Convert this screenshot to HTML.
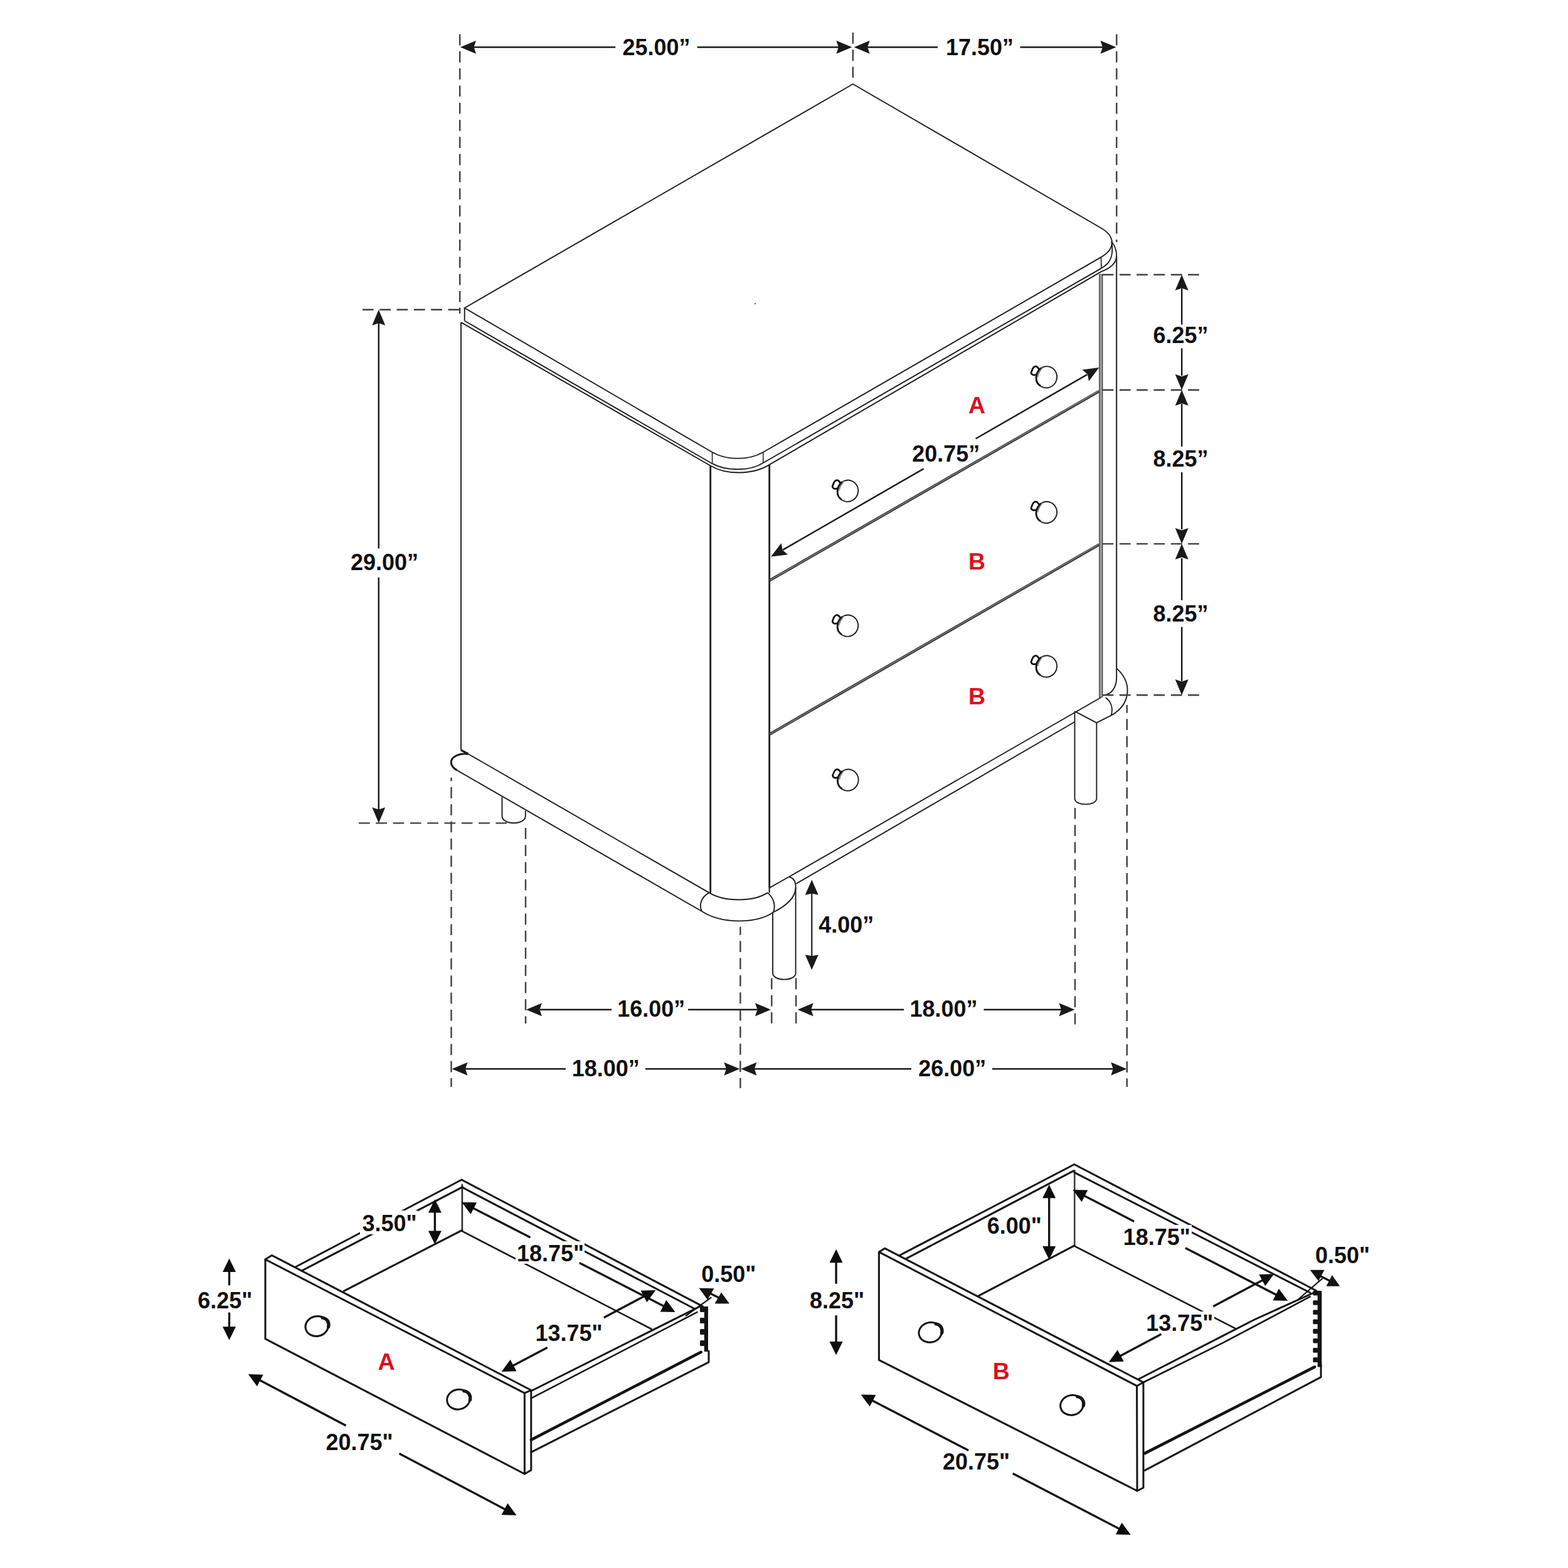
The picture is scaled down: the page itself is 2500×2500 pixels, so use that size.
<!DOCTYPE html>
<html lang="en"><head><meta charset="utf-8"><title>Chest dimensions</title>
<style>
html,body{margin:0;padding:0;background:#fff;}
body{width:2500px;height:2500px;}
svg{display:block;}
svg text{font-family:"Liberation Sans",Arial,Helvetica,sans-serif;font-weight:bold;}
</style></head><body>
<svg width="2500" height="2500" viewBox="0 0 2500 2500">
<rect width="2500" height="2500" fill="#ffffff"/>
<path d="M 740.7,491 L 1359.9,134 L 1755,363.2 C 1778.9,377 1778.9,396.6 1755,410.4 L 1216.8,721 C 1194,734.2 1158.2,734.2 1135.6,721 Z" stroke="#1c1c1c" stroke-width="1.9" fill="none" stroke-linejoin="miter" stroke-linecap="butt"/>
<line x1="740.7" y1="491" x2="740.7" y2="511.5" stroke="#1c1c1c" stroke-width="1.9"/>
<line x1="740.7" y1="511.5" x2="1135.6" y2="739.2" stroke="#1c1c1c" stroke-width="1.9"/>
<line x1="1135.6" y1="721" x2="1135.6" y2="739.2" stroke="#1c1c1c" stroke-width="1.5"/>
<line x1="1216.8" y1="721" x2="1216.8" y2="738" stroke="#1c1c1c" stroke-width="1.5"/>
<path d="M 1135.6,739.2 C 1158,751.5 1196,751.5 1216.8,738" stroke="#1c1c1c" stroke-width="1.9" fill="none" stroke-linejoin="round" stroke-linecap="butt"/>
<line x1="1216.8" y1="738" x2="1756.2" y2="427.6" stroke="#1c1c1c" stroke-width="1.9"/>
<line x1="735" y1="513.9" x2="1132.7" y2="742.5" stroke="#1c1c1c" stroke-width="1.9"/>
<path d="M 1132.7,742.5 C 1158,757.5 1200,757.5 1226.7,740.9" stroke="#1c1c1c" stroke-width="1.9" fill="none" stroke-linejoin="round" stroke-linecap="butt"/>
<line x1="1226.7" y1="740.9" x2="1756.2" y2="432.9" stroke="#1c1c1c" stroke-width="1.9"/>
<path d="M 1772.3,385 C 1774.5,398 1773.5,412 1765.5,420.5 Q 1761,424.8 1756.2,427.5" stroke="#1c1c1c" stroke-width="1.9" fill="none" stroke-linejoin="round" stroke-linecap="butt"/>
<path d="M 1772.3,385 C 1777,391 1780.2,399 1780.2,407.5 C 1780.2,418 1772,427 1756.2,432.9" stroke="#1c1c1c" stroke-width="1.9" fill="none" stroke-linejoin="round" stroke-linecap="butt"/>
<line x1="1755.5" y1="410.4" x2="1756" y2="427.5" stroke="#1c1c1c" stroke-width="1.6"/>
<line x1="735" y1="513.9" x2="735" y2="1195.8" stroke="#1c1c1c" stroke-width="1.9"/>
<line x1="1132.7" y1="742.5" x2="1132.7" y2="1423.4" stroke="#1c1c1c" stroke-width="2.8"/>
<line x1="1226.7" y1="740.9" x2="1226.7" y2="1415.6" stroke="#1c1c1c" stroke-width="2.8"/>
<line x1="1780.2" y1="408" x2="1780.2" y2="1066" stroke="#1c1c1c" stroke-width="2.0"/>
<line x1="1755.3" y1="437" x2="1755.3" y2="1112" stroke="#3a3a3a" stroke-width="6.2"/>
<line x1="1755.3" y1="438" x2="1755.3" y2="1111" stroke="#9c9c9c" stroke-width="3.6"/>
<line x1="1226.7" y1="925.7" x2="1752.3" y2="623.9" stroke="#333" stroke-width="4.4"/>
<line x1="1227.7" y1="925.1" x2="1751.3" y2="623.9" stroke="#8a8a8a" stroke-width="1.3"/>
<line x1="1226.7" y1="1170.8" x2="1752.3" y2="868.4" stroke="#333" stroke-width="4.4"/>
<line x1="1227.7" y1="1170.2" x2="1751.3" y2="868.4" stroke="#8a8a8a" stroke-width="1.3"/>
<path d="M 1341.5,771.9 L 1336.9,766.5 Q 1335.1,765.1 1333.2,765.7 Q 1330.6,766.7 1329.5,769.4 L 1327.4,774.8 Q 1327,777.2 1328.6,778.1 Q 1329.8,779.5 1331.5,779.4 L 1336.5,778.5" stroke="#0a0a0a" stroke-width="2.7" fill="none" stroke-linejoin="round" stroke-linecap="round"/>
<ellipse cx="1351.6" cy="782.7" rx="16.6" ry="17.2" fill="#fff" stroke="#1c1c1c" stroke-width="1.9" transform="rotate(20 1351.6 782.7)"/>
<path d="M 1342.6,768.4 C 1333.6,776.7 1332.1,790.7 1342.1,796.7" stroke="#111" stroke-width="2.8" fill="none" stroke-linejoin="round" stroke-linecap="butt"/>
<path d="M 1345.6,767.1 C 1340.6,772.7 1338.6,777.7 1338,782.2" stroke="#777" stroke-width="1.6" fill="none" stroke-linejoin="round" stroke-linecap="butt"/>
<path d="M 1658.4,590.5 L 1653.8,585.1 Q 1652,583.7 1650.1,584.3 Q 1647.5,585.3 1646.4,588 L 1644.3,593.4 Q 1643.9,595.8 1645.5,596.7 Q 1646.7,598.1 1648.4,598 L 1653.4,597.1" stroke="#0a0a0a" stroke-width="2.7" fill="none" stroke-linejoin="round" stroke-linecap="round"/>
<ellipse cx="1668.5" cy="601.3" rx="16.6" ry="17.2" fill="#fff" stroke="#1c1c1c" stroke-width="1.9" transform="rotate(20 1668.5 601.3)"/>
<path d="M 1659.5,587 C 1650.5,595.3 1649,609.3 1659,615.3" stroke="#111" stroke-width="2.8" fill="none" stroke-linejoin="round" stroke-linecap="butt"/>
<path d="M 1662.5,585.7 C 1657.5,591.3 1655.5,596.3 1654.9,600.8" stroke="#777" stroke-width="1.6" fill="none" stroke-linejoin="round" stroke-linecap="butt"/>
<path d="M 1341.5,986.9 L 1336.9,981.5 Q 1335.1,980.1 1333.2,980.7 Q 1330.6,981.7 1329.5,984.4 L 1327.4,989.8 Q 1327,992.2 1328.6,993.1 Q 1329.8,994.5 1331.5,994.4 L 1336.5,993.5" stroke="#0a0a0a" stroke-width="2.7" fill="none" stroke-linejoin="round" stroke-linecap="round"/>
<ellipse cx="1351.6" cy="997.7" rx="16.6" ry="17.2" fill="#fff" stroke="#1c1c1c" stroke-width="1.9" transform="rotate(20 1351.6 997.7)"/>
<path d="M 1342.6,983.4 C 1333.6,991.7 1332.1,1005.7 1342.1,1011.7" stroke="#111" stroke-width="2.8" fill="none" stroke-linejoin="round" stroke-linecap="butt"/>
<path d="M 1345.6,982.1 C 1340.6,987.7 1338.6,992.7 1338,997.2" stroke="#777" stroke-width="1.6" fill="none" stroke-linejoin="round" stroke-linecap="butt"/>
<path d="M 1658.4,806.2 L 1653.8,800.8 Q 1652,799.4 1650.1,800 Q 1647.5,801 1646.4,803.7 L 1644.3,809.1 Q 1643.9,811.5 1645.5,812.4 Q 1646.7,813.8 1648.4,813.7 L 1653.4,812.8" stroke="#0a0a0a" stroke-width="2.7" fill="none" stroke-linejoin="round" stroke-linecap="round"/>
<ellipse cx="1668.5" cy="817" rx="16.6" ry="17.2" fill="#fff" stroke="#1c1c1c" stroke-width="1.9" transform="rotate(20 1668.5 817)"/>
<path d="M 1659.5,802.7 C 1650.5,811 1649,825 1659,831" stroke="#111" stroke-width="2.8" fill="none" stroke-linejoin="round" stroke-linecap="butt"/>
<path d="M 1662.5,801.4 C 1657.5,807 1655.5,812 1654.9,816.5" stroke="#777" stroke-width="1.6" fill="none" stroke-linejoin="round" stroke-linecap="butt"/>
<path d="M 1341.9,1232.9 L 1337.3,1227.5 Q 1335.5,1226.1 1333.6,1226.7 Q 1331,1227.7 1329.9,1230.4 L 1327.8,1235.8 Q 1327.4,1238.2 1329,1239.1 Q 1330.2,1240.5 1331.9,1240.4 L 1336.9,1239.5" stroke="#0a0a0a" stroke-width="2.7" fill="none" stroke-linejoin="round" stroke-linecap="round"/>
<ellipse cx="1352" cy="1243.7" rx="16.6" ry="17.2" fill="#fff" stroke="#1c1c1c" stroke-width="1.9" transform="rotate(20 1352 1243.7)"/>
<path d="M 1343,1229.4 C 1334,1237.7 1332.5,1251.7 1342.5,1257.7" stroke="#111" stroke-width="2.8" fill="none" stroke-linejoin="round" stroke-linecap="butt"/>
<path d="M 1346,1228.1 C 1341,1233.7 1339,1238.7 1338.4,1243.2" stroke="#777" stroke-width="1.6" fill="none" stroke-linejoin="round" stroke-linecap="butt"/>
<path d="M 1658.4,1051.7 L 1653.8,1046.3 Q 1652,1044.9 1650.1,1045.5 Q 1647.5,1046.5 1646.4,1049.2 L 1644.3,1054.6 Q 1643.9,1057 1645.5,1057.9 Q 1646.7,1059.3 1648.4,1059.2 L 1653.4,1058.3" stroke="#0a0a0a" stroke-width="2.7" fill="none" stroke-linejoin="round" stroke-linecap="round"/>
<ellipse cx="1668.5" cy="1062.5" rx="16.6" ry="17.2" fill="#fff" stroke="#1c1c1c" stroke-width="1.9" transform="rotate(20 1668.5 1062.5)"/>
<path d="M 1659.5,1048.2 C 1650.5,1056.5 1649,1070.5 1659,1076.5" stroke="#111" stroke-width="2.8" fill="none" stroke-linejoin="round" stroke-linecap="butt"/>
<path d="M 1662.5,1046.9 C 1657.5,1052.5 1655.5,1057.5 1654.9,1062" stroke="#777" stroke-width="1.6" fill="none" stroke-linejoin="round" stroke-linecap="butt"/>
<text x="1557.5" y="658.9" font-size="37.5" text-anchor="middle" fill="#de0f1f">A</text>
<text x="1557.5" y="908.1" font-size="37.5" text-anchor="middle" fill="#de0f1f">B</text>
<text x="1557.5" y="1123.3" font-size="37.5" text-anchor="middle" fill="#de0f1f">B</text>
<line x1="735" y1="1195.8" x2="746.7" y2="1202.2" stroke="#1c1c1c" stroke-width="3.2"/>
<line x1="746.7" y1="1202.2" x2="1130.7" y2="1423.4" stroke="#1c1c1c" stroke-width="1.9"/>
<line x1="728.6" y1="1228.1" x2="1119" y2="1453" stroke="#1c1c1c" stroke-width="1.9"/>
<path d="M 746.7,1202.2 C 734,1200 718.5,1206 719.2,1216 C 719.8,1222 723,1225 728.6,1228.1" stroke="#1c1c1c" stroke-width="3.0" fill="none" stroke-linejoin="round" stroke-linecap="butt"/>
<path d="M 1130.7,1423.4 C 1155,1438 1200,1438.5 1223.9,1423.4" stroke="#1c1c1c" stroke-width="1.9" fill="none" stroke-linejoin="round" stroke-linecap="butt"/>
<path d="M 1119,1453 C 1150,1473 1205,1473.5 1233,1454.5" stroke="#1c1c1c" stroke-width="1.9" fill="none" stroke-linejoin="round" stroke-linecap="butt"/>
<path d="M 1130.7,1423.4 C 1118,1430 1114,1443 1119,1453" stroke="#1c1c1c" stroke-width="1.9" fill="none" stroke-linejoin="round" stroke-linecap="butt"/>
<path d="M 1223.9,1423.4 C 1234,1432 1237,1444 1233,1454.5" stroke="#1c1c1c" stroke-width="1.9" fill="none" stroke-linejoin="round" stroke-linecap="butt"/>
<path d="M 1226.7,1415.6 L 1226.7,1423.4" stroke="#1c1c1c" stroke-width="2.2" fill="none" stroke-linejoin="round" stroke-linecap="butt"/>
<line x1="1226.7" y1="1415.6" x2="1257.9" y2="1398" stroke="#1c1c1c" stroke-width="1.9"/>
<path d="M 1257.9,1398 C 1266,1400 1269,1406 1268.6,1415.6 C 1268,1432 1252,1445 1233,1454.5" stroke="#1c1c1c" stroke-width="1.9" fill="none" stroke-linejoin="round" stroke-linecap="butt"/>
<line x1="1257.9" y1="1398" x2="1755" y2="1112.2" stroke="#1c1c1c" stroke-width="1.9"/>
<line x1="1269.5" y1="1409" x2="1713" y2="1151.2" stroke="#1c1c1c" stroke-width="1.9"/>
<path d="M 1232.1,1454.5 L 1232.1,1551.5 C 1232.1,1565 1268.6,1565 1268.6,1551.5 L 1268.6,1415.6" stroke="#1c1c1c" stroke-width="1.9" fill="none" stroke-linejoin="round" stroke-linecap="butt"/>
<path d="M 800.5,1270.8 L 800.5,1301 C 800.5,1316 837.8,1316 837.8,1301 L 837.8,1292.8" stroke="#1c1c1c" stroke-width="1.9" fill="none" stroke-linejoin="round" stroke-linecap="butt"/>
<path d="M 1713.5,1134.2 L 1713.5,1273 C 1713.5,1285.5 1748.4,1285.5 1748.4,1273 L 1748.4,1152.3" stroke="#1c1c1c" stroke-width="1.9" fill="none" stroke-linejoin="round" stroke-linecap="butt"/>
<path d="M 1713.5,1134.2 L 1748.4,1152.3 L 1771.7,1140.7" stroke="#1c1c1c" stroke-width="1.9" fill="none" stroke-linejoin="round" stroke-linecap="butt"/>
<path d="M 1780.2,1066 L 1780.2,1080 C 1780.2,1096 1772,1108.3 1758.8,1108.3" stroke="#1c1c1c" stroke-width="1.9" fill="none" stroke-linejoin="round" stroke-linecap="butt"/>
<path d="M 1780.2,1065.6 C 1792,1076 1798,1088 1797.6,1101.9 C 1797,1120 1787,1132 1771.7,1140.7" stroke="#1c1c1c" stroke-width="1.9" fill="none" stroke-linejoin="round" stroke-linecap="butt"/>
<path d="M 1762.7,1112.2 C 1771,1118 1775,1128 1771.7,1140.7" stroke="#1c1c1c" stroke-width="1.9" fill="none" stroke-linejoin="round" stroke-linecap="butt"/>
<line x1="733.2" y1="54.5" x2="733.2" y2="484" stroke="#3f3f3f" stroke-width="2.4" stroke-dasharray="17.7 9.6"/>
<line x1="733.2" y1="490.5" x2="733.2" y2="500" stroke="#3f3f3f" stroke-width="2.4" stroke-dasharray="17.7 9.6"/>
<line x1="1359.9" y1="52" x2="1359.9" y2="124" stroke="#3f3f3f" stroke-width="2.4" stroke-dasharray="17.7 9.6"/>
<line x1="1780.3" y1="54.5" x2="1780.3" y2="386" stroke="#3f3f3f" stroke-width="2.4" stroke-dasharray="17.7 9.6"/>
<line x1="755" y1="75.2" x2="981.2" y2="75.2" stroke="#1c1c1c" stroke-width="2.5"/>
<line x1="1111.7" y1="75.2" x2="1337" y2="75.2" stroke="#1c1c1c" stroke-width="2.5"/>
<polygon points="734,75.2 759,64.7 755.5,75.2 759,85.7" fill="#1a1a1a"/>
<polygon points="1358.4,75.2 1333.4,85.7 1336.9,75.2 1333.4,64.7" fill="#1a1a1a"/>
<text x="1046.5" y="88.2" font-size="36" text-anchor="middle" fill="#111">25.00”</text>
<line x1="1383" y1="75.2" x2="1495" y2="75.2" stroke="#1c1c1c" stroke-width="2.5"/>
<line x1="1626.5" y1="75.2" x2="1758" y2="75.2" stroke="#1c1c1c" stroke-width="2.5"/>
<polygon points="1361.7,75.2 1386.7,64.7 1383.2,75.2 1386.7,85.7" fill="#1a1a1a"/>
<polygon points="1779.5,75.2 1754.5,85.7 1758,75.2 1754.5,64.7" fill="#1a1a1a"/>
<text x="1562" y="88.2" font-size="36" text-anchor="middle" fill="#111">17.50”</text>
<line x1="578" y1="493.7" x2="732.5" y2="493.7" stroke="#3f3f3f" stroke-width="2.4" stroke-dasharray="17.7 9.6"/>
<line x1="572" y1="1312.4" x2="808.8" y2="1312.4" stroke="#3f3f3f" stroke-width="2.4" stroke-dasharray="17.7 9.6"/>
<line x1="603.8" y1="515" x2="603.8" y2="874.4" stroke="#1c1c1c" stroke-width="2.5"/>
<line x1="603.8" y1="920.8" x2="603.8" y2="1291" stroke="#1c1c1c" stroke-width="2.5"/>
<polygon points="603.8,493.7 614.3,518.7 603.8,515.2 593.3,518.7" fill="#1a1a1a"/>
<polygon points="603.8,1312.2 593.3,1287.2 603.8,1290.7 614.3,1287.2" fill="#1a1a1a"/>
<text x="613" y="908.5" font-size="36" text-anchor="middle" fill="#111">29.00”</text>
<line x1="1757.6" y1="438" x2="1912.6" y2="438" stroke="#3f3f3f" stroke-width="2.4" stroke-dasharray="17.7 9.6"/>
<line x1="1757.6" y1="621.8" x2="1912.6" y2="621.8" stroke="#3f3f3f" stroke-width="2.4" stroke-dasharray="17.7 9.6"/>
<line x1="1757.6" y1="867.1" x2="1912.6" y2="867.1" stroke="#3f3f3f" stroke-width="2.4" stroke-dasharray="17.7 9.6"/>
<line x1="1757.6" y1="1108.3" x2="1912.6" y2="1108.3" stroke="#3f3f3f" stroke-width="2.4" stroke-dasharray="17.7 9.6"/>
<polygon points="1884.2,438 1894.7,463 1884.2,459.5 1873.7,463" fill="#1a1a1a"/>
<polygon points="1884.2,621.8 1873.7,596.8 1884.2,600.3 1894.7,596.8" fill="#1a1a1a"/>
<line x1="1884.2" y1="460" x2="1884.2" y2="517.5" stroke="#1c1c1c" stroke-width="2.5"/>
<line x1="1884.2" y1="555.3" x2="1884.2" y2="599" stroke="#1c1c1c" stroke-width="2.5"/>
<text x="1882.5" y="547.3" font-size="36" text-anchor="middle" fill="#111">6.25”</text>
<polygon points="1884.2,621.8 1894.7,646.8 1884.2,643.3 1873.7,646.8" fill="#1a1a1a"/>
<polygon points="1884.2,867.1 1873.7,842.1 1884.2,845.6 1894.7,842.1" fill="#1a1a1a"/>
<line x1="1884.2" y1="644" x2="1884.2" y2="712" stroke="#1c1c1c" stroke-width="2.5"/>
<line x1="1884.2" y1="753" x2="1884.2" y2="844" stroke="#1c1c1c" stroke-width="2.5"/>
<text x="1882.5" y="744.3" font-size="36" text-anchor="middle" fill="#111">8.25”</text>
<polygon points="1884.2,867.1 1894.7,892.1 1884.2,888.6 1873.7,892.1" fill="#1a1a1a"/>
<polygon points="1884.2,1108.3 1873.7,1083.3 1884.2,1086.8 1894.7,1083.3" fill="#1a1a1a"/>
<line x1="1884.2" y1="890" x2="1884.2" y2="957" stroke="#1c1c1c" stroke-width="2.5"/>
<line x1="1884.2" y1="999.6" x2="1884.2" y2="1086" stroke="#1c1c1c" stroke-width="2.5"/>
<text x="1882.5" y="991.3" font-size="36" text-anchor="middle" fill="#111">8.25”</text>
<polygon points="1752.5,586.1 1736.1,607.7 1733.9,596.8 1725.6,589.5" fill="#1a1a1a"/>
<polygon points="1229.2,887.6 1245.6,866 1247.8,876.9 1256.1,884.2" fill="#1a1a1a"/>
<line x1="1733.4" y1="597.1" x2="1555.6" y2="699.5" stroke="#1c1c1c" stroke-width="2.5"/>
<line x1="1472.7" y1="747.3" x2="1248.3" y2="876.6" stroke="#1c1c1c" stroke-width="2.5"/>
<text x="1508.3" y="735.6" font-size="36" text-anchor="middle" fill="#111">20.75”</text>
<line x1="719.5" y1="1239.8" x2="719.5" y2="1733" stroke="#3f3f3f" stroke-width="2.4" stroke-dasharray="17.7 9.6" stroke-dashoffset="12.1"/>
<line x1="838" y1="1320" x2="838" y2="1632" stroke="#3f3f3f" stroke-width="2.4" stroke-dasharray="17.7 9.6"/>
<line x1="1180.4" y1="1477.7" x2="1180.4" y2="1735" stroke="#3f3f3f" stroke-width="2.4" stroke-dasharray="17.7 9.6" stroke-dashoffset="4.7"/>
<line x1="1230.3" y1="1559.5" x2="1230.3" y2="1631.7" stroke="#3f3f3f" stroke-width="2.4" stroke-dasharray="17.7 9.6"/>
<line x1="1269.2" y1="1559.5" x2="1269.2" y2="1631.7" stroke="#3f3f3f" stroke-width="2.4" stroke-dasharray="17.7 9.6"/>
<line x1="1714" y1="1288" x2="1714" y2="1635" stroke="#3f3f3f" stroke-width="2.4" stroke-dasharray="17.7 9.6"/>
<line x1="1796.8" y1="1123.9" x2="1796.8" y2="1733" stroke="#3f3f3f" stroke-width="2.4" stroke-dasharray="17.7 9.6" stroke-dashoffset="4.9"/>
<polygon points="839,1609.7 864,1599.2 860.5,1609.7 864,1620.2" fill="#1a1a1a"/>
<polygon points="1229,1609.7 1204,1620.2 1207.5,1609.7 1204,1599.2" fill="#1a1a1a"/>
<line x1="861" y1="1609.7" x2="975" y2="1609.7" stroke="#1c1c1c" stroke-width="2.5"/>
<line x1="1097" y1="1609.7" x2="1207" y2="1609.7" stroke="#1c1c1c" stroke-width="2.5"/>
<text x="1038.3" y="1621.3" font-size="36" text-anchor="middle" fill="#111">16.00”</text>
<polygon points="1271.7,1609.7 1296.7,1599.2 1293.2,1609.7 1296.7,1620.2" fill="#1a1a1a"/>
<polygon points="1713.5,1609.7 1688.5,1620.2 1692,1609.7 1688.5,1599.2" fill="#1a1a1a"/>
<line x1="1293" y1="1609.7" x2="1441.3" y2="1609.7" stroke="#1c1c1c" stroke-width="2.5"/>
<line x1="1568.5" y1="1609.7" x2="1692" y2="1609.7" stroke="#1c1c1c" stroke-width="2.5"/>
<text x="1504.5" y="1621.3" font-size="36" text-anchor="middle" fill="#111">18.00”</text>
<polygon points="720.5,1704.2 745.5,1693.7 742,1704.2 745.5,1714.7" fill="#1a1a1a"/>
<polygon points="1179.4,1704.2 1154.4,1714.7 1157.9,1704.2 1154.4,1693.7" fill="#1a1a1a"/>
<line x1="742" y1="1704.2" x2="902" y2="1704.2" stroke="#1c1c1c" stroke-width="2.5"/>
<line x1="1029" y1="1704.2" x2="1158" y2="1704.2" stroke="#1c1c1c" stroke-width="2.5"/>
<text x="965.8" y="1715.6" font-size="36" text-anchor="middle" fill="#111">18.00”</text>
<polygon points="1181.4,1704.2 1206.4,1693.7 1202.9,1704.2 1206.4,1714.7" fill="#1a1a1a"/>
<polygon points="1796.3,1704.2 1771.3,1714.7 1774.8,1704.2 1771.3,1693.7" fill="#1a1a1a"/>
<line x1="1203" y1="1704.2" x2="1453" y2="1704.2" stroke="#1c1c1c" stroke-width="2.5"/>
<line x1="1582" y1="1704.2" x2="1775" y2="1704.2" stroke="#1c1c1c" stroke-width="2.5"/>
<text x="1518.3" y="1715.6" font-size="36" text-anchor="middle" fill="#111">26.00”</text>
<polygon points="1294.3,1402.7 1304.8,1426.7 1294.3,1424.7 1283.8,1426.7" fill="#1a1a1a"/>
<polygon points="1294.3,1546.3 1283.8,1522.3 1294.3,1524.3 1304.8,1522.3" fill="#1a1a1a"/>
<line x1="1294.3" y1="1424" x2="1294.3" y2="1525" stroke="#1c1c1c" stroke-width="2.2"/>
<text x="1349.3" y="1486.8" font-size="36" text-anchor="middle" fill="#111">4.00”</text>
<circle cx="1204" cy="484" r="1.3" fill="#777"/>
<path d="M 423,2008 L 836.4,2221.2 L 836.4,2350 L 423,2134.7 Z" stroke="#141414" stroke-width="3.0" fill="none" stroke-linejoin="round" stroke-linecap="round"/>
<path d="M 423,2008 L 433.3,2001.4 L 846.8,2216.5 L 846.8,2344 L 836.4,2350" stroke="#141414" stroke-width="3.0" fill="none" stroke-linejoin="round" stroke-linecap="round"/>
<path d="M 836.4,2221.2 L 846.8,2216.5" stroke="#141414" stroke-width="3.0" fill="none" stroke-linejoin="round" stroke-linecap="round"/>
<path d="M 472.1,2019.5 L 736,1881" stroke="#141414" stroke-width="3.0" fill="none" stroke-linejoin="round" stroke-linecap="round"/>
<path d="M 481.2,2026 L 737.4,1892.7" stroke="#141414" stroke-width="3.0" fill="none" stroke-linejoin="round" stroke-linecap="round"/>
<path d="M 736.9,1888.8 L 736.9,1961.3" stroke="#2a2a2a" stroke-width="2.6" fill="none" stroke-linejoin="round" stroke-linecap="round"/>
<path d="M 736.9,1961.3 L 548.4,2058.3" stroke="#141414" stroke-width="3.0" fill="none" stroke-linejoin="round" stroke-linecap="round"/>
<path d="M 736,1881 L 1120.5,2082.8" stroke="#141414" stroke-width="3.0" fill="none" stroke-linejoin="round" stroke-linecap="round"/>
<path d="M 736.2,1892.7 L 1108,2087" stroke="#141414" stroke-width="3.0" fill="none" stroke-linejoin="round" stroke-linecap="round"/>
<path d="M 736.2,1962.6 L 1038.6,2119" stroke="#141414" stroke-width="2.6" fill="none" stroke-linejoin="round" stroke-linecap="round"/>
<path d="M 846.4,2218 L 1116,2082.8" stroke="#141414" stroke-width="3.0" fill="none" stroke-linejoin="round" stroke-linecap="round"/>
<path d="M 846.9,2229.4 L 1111.5,2092.1" stroke="#141414" stroke-width="2.6" fill="none" stroke-linejoin="round" stroke-linecap="round"/>
<path d="M 846.9,2295.6 L 1117.7,2155.8" stroke="#141414" stroke-width="4.6" fill="none" stroke-linejoin="round" stroke-linecap="round"/>
<path d="M 846.9,2315.3 L 1130,2171.8 L 1130,2154" stroke="#141414" stroke-width="3.0" fill="none" stroke-linejoin="round" stroke-linecap="round"/>
<rect x="1122.8" y="2083" width="6.2" height="72" fill="#141414"/>
<rect x="1116" y="2083" width="7.3" height="9" rx="1.5" fill="#141414"/>
<rect x="1116" y="2101" width="7.3" height="9" rx="1.5" fill="#141414"/>
<rect x="1116" y="2119" width="7.3" height="9" rx="1.5" fill="#141414"/>
<rect x="1116" y="2137" width="7.3" height="9" rx="1.5" fill="#141414"/>
<ellipse cx="505.2" cy="2114.5" rx="18.3" ry="15.8" fill="none" stroke="#141414" stroke-width="3" transform="rotate(-12 505.2 2114.5)"/>
<path d="M 514.2,2101 C 522.2,2102.5 525.2,2108.5 523.7,2115.5" stroke="#141414" stroke-width="5.2" fill="none" stroke-linejoin="round" stroke-linecap="round"/>
<ellipse cx="730.9" cy="2231.2" rx="18.3" ry="15.8" fill="none" stroke="#141414" stroke-width="3" transform="rotate(-12 730.9 2231.2)"/>
<path d="M 739.9,2217.7 C 747.9,2219.2 750.9,2225.2 749.4,2232.2" stroke="#141414" stroke-width="5.2" fill="none" stroke-linejoin="round" stroke-linecap="round"/>
<rect x="574" y="1930" width="92" height="38" fill="#fff"/>
<rect x="822" y="1979" width="110" height="36" fill="#fff"/>
<rect x="852" y="2107" width="110" height="36" fill="#fff"/>
<line x1="365.5" y1="2026.1" x2="365.5" y2="2049.3" stroke="#141414" stroke-width="3.4"/>
<line x1="365.5" y1="2092.6" x2="365.5" y2="2117.2" stroke="#141414" stroke-width="3.4"/>
<polygon points="365.5,2006.6 376,2028.1 365.5,2028.1 355,2028.1" fill="#0d0d0d"/>
<polygon points="365.5,2136.7 355,2115.2 365.5,2115.2 376,2115.2" fill="#0d0d0d"/>
<text x="358.8" y="2085.5" font-size="36" text-anchor="middle" fill="#111">6.25"</text>
<line x1="693.4" y1="1931.5" x2="693.4" y2="1964.5" stroke="#141414" stroke-width="3.4"/>
<polygon points="693.4,1912 703.9,1933.5 693.4,1933.5 682.9,1933.5" fill="#0d0d0d"/>
<polygon points="693.4,1984 682.9,1962.5 693.4,1962.5 703.9,1962.5" fill="#0d0d0d"/>
<text x="621" y="1962.6" font-size="36" text-anchor="middle" fill="#111">3.50"</text>
<line x1="753.5" y1="1925.7" x2="845.6" y2="1973.1" stroke="#141414" stroke-width="3.4"/>
<line x1="923.8" y1="2013.4" x2="1059.3" y2="2083.1" stroke="#141414" stroke-width="3.4"/>
<polygon points="736.2,1916.8 760.1,1917.3 755.3,1926.6 750.5,1936" fill="#0d0d0d"/>
<polygon points="1076.6,2092 1052.7,2091.5 1057.5,2082.2 1062.3,2072.8" fill="#0d0d0d"/>
<text x="877.5" y="2010.5" font-size="36" text-anchor="middle" fill="#111">18.75"</text>
<line x1="1028.3" y1="2066.1" x2="962.8" y2="2100.7" stroke="#141414" stroke-width="3.4"/>
<line x1="872.7" y1="2148.4" x2="816.8" y2="2177.9" stroke="#141414" stroke-width="3.4"/>
<polygon points="1045.5,2057 1031.4,2076.3 1026.5,2067 1021.6,2057.8" fill="#0d0d0d"/>
<polygon points="799.6,2187 813.7,2167.7 818.6,2177 823.5,2186.2" fill="#0d0d0d"/>
<text x="907" y="2137.8" font-size="36" text-anchor="middle" fill="#111">13.75"</text>
<line x1="413.1" y1="2200.1" x2="551.6" y2="2272.9" stroke="#141414" stroke-width="3.4"/>
<line x1="636.5" y1="2317.6" x2="806.2" y2="2406.9" stroke="#141414" stroke-width="3.4"/>
<polygon points="395.8,2191 419.7,2191.7 414.8,2201 409.9,2210.3" fill="#0d0d0d"/>
<polygon points="823.5,2416 799.6,2415.3 804.5,2406 809.4,2396.7" fill="#0d0d0d"/>
<text x="573" y="2312" font-size="36" text-anchor="middle" fill="#111">20.75"</text>
<text x="1161.7" y="2043.6" font-size="36" text-anchor="middle" fill="#111">0.50"</text>
<line x1="1092.9" y1="2098.3" x2="1134.3" y2="2068.3" stroke="#141414" stroke-width="2.2"/>
<polygon points="1114.6,2053.8 1138.4,2054.3 1128.1,2072.4" fill="#141414"/>
<polygon points="1139.5,2078.5 1163,2078.5 1150,2060.5" fill="#141414"/>
<line x1="1132" y1="2062" x2="1150" y2="2071" stroke="#141414" stroke-width="3.2"/>
<text x="616" y="2183.6" font-size="37.5" text-anchor="middle" fill="#de0f1f">A</text>
<path d="M 1401.4,1996.2 L 1812.6,2209.7 L 1813.1,2377 L 1401.4,2168.3 Z" stroke="#141414" stroke-width="3.0" fill="none" stroke-linejoin="round" stroke-linecap="round"/>
<path d="M 1401.4,1996.2 L 1410.8,1990.3 L 1823,2204 L 1823,2372 L 1813.1,2377" stroke="#141414" stroke-width="3.0" fill="none" stroke-linejoin="round" stroke-linecap="round"/>
<path d="M 1812.6,2209.7 L 1823,2204" stroke="#141414" stroke-width="3.0" fill="none" stroke-linejoin="round" stroke-linecap="round"/>
<path d="M 1434.6,2001.4 L 1712.8,1856.5" stroke="#141414" stroke-width="3.0" fill="none" stroke-linejoin="round" stroke-linecap="round"/>
<path d="M 1443.6,2007.4 L 1711.5,1866.8" stroke="#141414" stroke-width="3.0" fill="none" stroke-linejoin="round" stroke-linecap="round"/>
<path d="M 1713.3,1866 L 1713.3,1985.9" stroke="#3a3a3a" stroke-width="2.5" fill="none" stroke-linejoin="round" stroke-linecap="round"/>
<path d="M 1713.3,1985.9 L 1560.1,2066.1" stroke="#141414" stroke-width="3.0" fill="none" stroke-linejoin="round" stroke-linecap="round"/>
<path d="M 1712.9,1856.5 L 2099,2058" stroke="#141414" stroke-width="3.0" fill="none" stroke-linejoin="round" stroke-linecap="round"/>
<path d="M 1712.9,1869.4 L 2088.7,2061" stroke="#141414" stroke-width="3.0" fill="none" stroke-linejoin="round" stroke-linecap="round"/>
<path d="M 1712.9,1986.6 L 1969.2,2117.9" stroke="#141414" stroke-width="2.6" fill="none" stroke-linejoin="round" stroke-linecap="round"/>
<path d="M 1816,2198.5 L 1950,2129.6 L 2000,2104 L 2095,2061" stroke="#141414" stroke-width="3.0" fill="none" stroke-linejoin="round" stroke-linecap="round"/>
<path d="M 1824,2203.5 L 1950,2140.8 L 2000,2114.5 L 2088.7,2067.3" stroke="#141414" stroke-width="2.6" fill="none" stroke-linejoin="round" stroke-linecap="round"/>
<path d="M 1825.3,2317.1 L 2096.1,2179.4" stroke="#141414" stroke-width="4.6" fill="none" stroke-linejoin="round" stroke-linecap="round"/>
<path d="M 1825.3,2344.3 L 2106.1,2195.7 L 2106.1,2176" stroke="#141414" stroke-width="3.0" fill="none" stroke-linejoin="round" stroke-linecap="round"/>
<rect x="2100.7" y="2058" width="6.7" height="121.5" fill="#141414"/>
<rect x="2093.4" y="2058" width="7.8" height="7.6" rx="1.5" fill="#141414"/>
<rect x="2093.4" y="2073.2" width="7.8" height="7.6" rx="1.5" fill="#141414"/>
<rect x="2093.4" y="2088.4" width="7.8" height="7.6" rx="1.5" fill="#141414"/>
<rect x="2093.4" y="2103.6" width="7.8" height="7.6" rx="1.5" fill="#141414"/>
<rect x="2093.4" y="2118.8" width="7.8" height="7.6" rx="1.5" fill="#141414"/>
<rect x="2093.4" y="2133.9" width="7.8" height="7.6" rx="1.5" fill="#141414"/>
<rect x="2093.4" y="2149.1" width="7.8" height="7.6" rx="1.5" fill="#141414"/>
<rect x="2093.4" y="2164.3" width="7.8" height="7.6" rx="1.5" fill="#141414"/>
<ellipse cx="1483.2" cy="2124.3" rx="18.3" ry="15.8" fill="none" stroke="#141414" stroke-width="3" transform="rotate(-12 1483.2 2124.3)"/>
<path d="M 1492.2,2110.8 C 1500.2,2112.3 1503.2,2118.3 1501.7,2125.3" stroke="#141414" stroke-width="5.2" fill="none" stroke-linejoin="round" stroke-linecap="round"/>
<ellipse cx="1708.9" cy="2240.3" rx="18.3" ry="15.8" fill="none" stroke="#141414" stroke-width="3" transform="rotate(-12 1708.9 2240.3)"/>
<path d="M 1717.9,2226.8 C 1725.9,2228.3 1728.9,2234.3 1727.4,2241.3" stroke="#141414" stroke-width="5.2" fill="none" stroke-linejoin="round" stroke-linecap="round"/>
<rect x="1790" y="1953" width="110" height="36" fill="#fff"/>
<rect x="1826" y="2091" width="110" height="36" fill="#fff"/>
<line x1="1333.1" y1="2011.3" x2="1333.1" y2="2046.8" stroke="#141414" stroke-width="3.4"/>
<line x1="1333.1" y1="2097.2" x2="1333.1" y2="2141.1" stroke="#141414" stroke-width="3.4"/>
<polygon points="1333.1,1991.8 1343.6,2013.3 1333.1,2013.3 1322.6,2013.3" fill="#0d0d0d"/>
<polygon points="1333.1,2160.6 1322.6,2139.1 1333.1,2139.1 1343.6,2139.1" fill="#0d0d0d"/>
<text x="1334.6" y="2085.5" font-size="36" text-anchor="middle" fill="#111">8.25"</text>
<line x1="1672.7" y1="1908.3" x2="1672.7" y2="1988.9" stroke="#141414" stroke-width="3.4"/>
<polygon points="1672.7,1888.8 1683.2,1910.3 1672.7,1910.3 1662.2,1910.3" fill="#0d0d0d"/>
<polygon points="1672.7,2008.4 1662.2,1986.9 1672.7,1986.9 1683.2,1986.9" fill="#0d0d0d"/>
<text x="1617.3" y="1966.5" font-size="36" text-anchor="middle" fill="#111">6.00"</text>
<line x1="1727.7" y1="1906" x2="1808.2" y2="1947.5" stroke="#141414" stroke-width="3.4"/>
<line x1="1889.9" y1="1989.7" x2="2036" y2="2065" stroke="#141414" stroke-width="3.4"/>
<polygon points="1710.4,1897.1 1734.3,1897.6 1729.5,1907 1724.7,1916.3" fill="#0d0d0d"/>
<polygon points="2053.3,2073.9 2029.4,2073.4 2034.2,2064 2039,2054.7" fill="#0d0d0d"/>
<text x="1844.3" y="1984.6" font-size="36" text-anchor="middle" fill="#111">18.75"</text>
<line x1="2014.1" y1="2040.4" x2="1934.2" y2="2083" stroke="#141414" stroke-width="3.4"/>
<line x1="1851.7" y1="2126.9" x2="1785" y2="2162.5" stroke="#141414" stroke-width="3.4"/>
<polygon points="2031.3,2031.2 2017.3,2050.6 2012.3,2041.3 2007.4,2032.1" fill="#0d0d0d"/>
<polygon points="1767.8,2171.7 1781.8,2152.3 1786.8,2161.6 1791.7,2170.8" fill="#0d0d0d"/>
<text x="1880.8" y="2122.3" font-size="36" text-anchor="middle" fill="#111">13.75"</text>
<line x1="1389.8" y1="2232.4" x2="1544.2" y2="2312.6" stroke="#141414" stroke-width="3.4"/>
<line x1="1614.7" y1="2349.3" x2="1785.5" y2="2438" stroke="#141414" stroke-width="3.4"/>
<polygon points="1372.5,2223.4 1396.4,2224 1391.6,2233.3 1386.7,2242.6" fill="#0d0d0d"/>
<polygon points="1802.8,2447 1778.9,2446.4 1783.7,2437.1 1788.6,2427.8" fill="#0d0d0d"/>
<text x="1556.6" y="2343" font-size="36" text-anchor="middle" fill="#111">20.75"</text>
<text x="2140.6" y="2013.6" font-size="36" text-anchor="middle" fill="#111">0.50"</text>
<line x1="2069" y1="2072.5" x2="2108.4" y2="2038.3" stroke="#141414" stroke-width="2.2"/>
<polygon points="2088.7,2024.8 2111.5,2024.8 2102.2,2042.4" fill="#141414"/>
<polygon points="2114.6,2050.7 2136.3,2050.7 2123.9,2033.1" fill="#141414"/>
<line x1="2105" y1="2034.5" x2="2123" y2="2043.5" stroke="#141414" stroke-width="3.2"/>
<text x="1596.3" y="2199.2" font-size="37.5" text-anchor="middle" fill="#de0f1f">B</text>
</svg>
</body></html>
